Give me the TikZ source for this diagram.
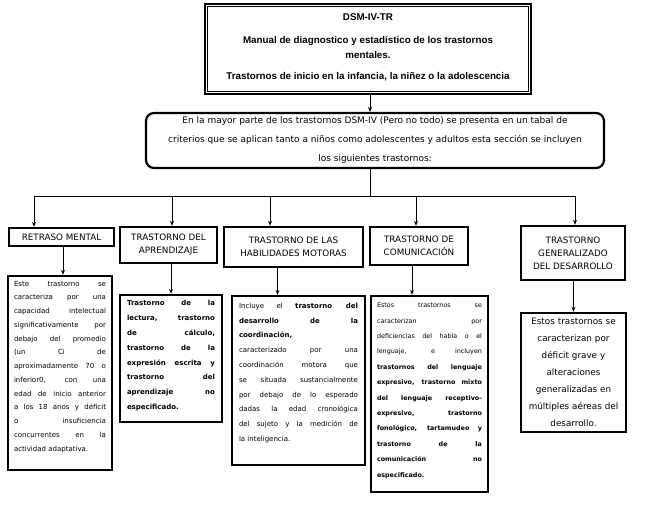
\documentclass[tikz,border=0pt]{standalone}
\usepackage{fontspec}
\setmainfont{DejaVu Sans}
\newfontfamily\arialfont{Liberation Sans}
\usetikzlibrary{arrows.meta}
\newcommand\nohyph{\tolerance=10000\relax\hyphenpenalty=10000\relax}
\begin{document}
\begin{tikzpicture}[x=1pt,y=-1pt,
  box/.style={draw, line width=2.4pt, rectangle, inner sep=0pt},
  hdr/.style={box, align=center, font=\fontsize{8.8}{13}\selectfont},
  dtext/.style={anchor=north, inner sep=0pt, align=justify},
  arr/.style={-{Stealth[length=5pt,width=4pt]}, line width=0.9pt},
  ln/.style={line width=0.9pt}]
\useasboundingbox (0,0) rectangle (649,510);

% top double box
\node[box, line width=2.2pt, minimum width=326pt, minimum height=90pt] (tb) at (368,49) {};
\draw[line width=1pt] ([shift={(3.5pt,-3.5pt)}]tb.north west) rectangle ([shift={(-3.5pt,3.5pt)}]tb.south east);
\node[align=center, inner sep=0pt, font=\arialfont\bfseries\fontsize{9.8}{15}\selectfont] (tt) at (368,47)
 {DSM-IV-TR\\[8pt]Manual de diagnostico y estadístico de los trastornos\\mentales.\\[6pt]Trastornos de inicio en la infancia, la niñez o la adolescencia};

% rounded box
\node[draw, line width=2.2pt, rounded corners=8pt, minimum width=458pt, minimum height=55pt,
  align=center, font=\fontsize{9}{19}\selectfont] (rb) at (375,140.5)
 {En la mayor parte de los trastornos DSM-IV (Pero no todo) se presenta en un tabal de\\criterios que se aplican tanto a niños como adolescentes y adultos esta sección se incluyen\\los siguientes trastornos:};

\draw[arr] (tb.south -| rb.north) ++(-5pt,0) coordinate (ta) -- (ta |- rb.north);

% headers
\node[hdr, minimum width=105pt, minimum height=18pt] (h1) at (61.5,237) {RETRASO MENTAL};
\node[hdr, minimum width=97pt, minimum height=36pt] (h2) at (168.5,245) {TRASTORNO DEL\\APRENDIZAJE};
\node[hdr, minimum width=139pt, minimum height=40pt] (h3) at (293.5,247) {TRASTORNO DE LAS\\HABILIDADES MOTORAS};
\node[hdr, minimum width=98pt, minimum height=38pt] (h4) at (419,246) {TRASTORNO DE\\COMUNICACIÓN};
\node[hdr, minimum width=104pt, minimum height=54pt] (h5) at (573,253) {TRASTORNO\\GENERALIZADO\\DEL DESARROLLO};

% bus
\coordinate (b0) at (370,196);
\coordinate (b1) at (34,196);
\coordinate (b2) at (172,196);
\coordinate (b3) at (270,196);
\coordinate (b4) at (416,196);
\coordinate (b5) at (575,196);
\draw[ln] (rb.south -| b0) -- (b0);
\draw[ln] (b1) -- (b5);
\draw[arr] (b1) -- (b1 |- h1.north);
\draw[arr] (b2) -- (b2 |- h2.north);
\draw[arr] (b3) -- (b3 |- h3.north);
\draw[arr] (b4) -- (b4 |- h4.north);
\draw[arr] (b5) -- (b5 |- h5.north);

% description boxes
\node[box, minimum width=104pt, minimum height=194pt] (d1) at (60,373) {};
\node[box, minimum width=102pt, minimum height=127pt] (d2) at (171,358.5) {};
\node[box, minimum width=133pt, minimum height=169pt] (d3) at (298.5,380.5) {};
\node[box, minimum width=117pt, minimum height=196pt] (d4) at (429.5,394) {};
\node[box, minimum width=105pt, minimum height=119pt, align=center, text width=97pt,
  font=\fontsize{8.8}{17}\selectfont] (d5) at (573.5,372.5)
 {Estos trastornos se\\caracterizan por\\déficit grave y\\alteraciones\\generalizadas en\\múltiples aéreas del\\desarrollo.};

\node[dtext, text width=92pt, font=\fontsize{7}{13.75}\selectfont\nohyph]
 (d1t) at ([yshift=-6pt]d1.north)
 {Este trastorno se\linebreak caracteriza por una\linebreak capacidad intelectual\linebreak significativamente por\linebreak debajo del promedio\linebreak (un Ci de\linebreak aproximadamente 70 o\linebreak inferior0, con una\linebreak edad de inicio anterior\linebreak a los 18 anos y déficit\linebreak o insuficiencia\linebreak concurrentes en la\linebreak actividad adaptativa.};

\node[dtext, text width=88pt, font=\bfseries\fontsize{7}{14.8}\selectfont\nohyph]
 (d2t) at ([yshift=-6.5pt]d2.north)
 {Trastorno de la\linebreak lectura, trastorno\linebreak de cálculo,\linebreak trastorno de la\linebreak expresión escrita y\linebreak trastorno del\linebreak aprendizaje no\linebreak especificado.};

\node[dtext, text width=119pt, font=\fontsize{7}{14.8}\selectfont\nohyph]
 (d3t) at ([yshift=-8pt]d3.north)
 {Incluye el \textbf{trastorno del}\linebreak \textbf{desarrollo de la}\linebreak \textbf{coordinación,}\newline caracterizado por una\linebreak coordinación motora que\linebreak se situada sustancialmente\linebreak por debajo de lo esperado\linebreak dadas la edad cronológica\linebreak del sujeto y la medición de\linebreak la inteligencia.};

\node[dtext, text width=105pt, font=\fontsize{6.4}{15.4}\selectfont\nohyph]
 (d4t) at ([yshift=-8pt]d4.north)
 {Estos trastornos se\linebreak caracterizan por\linebreak deficiencias del habla o el\linebreak lenguaje, e incluyen\linebreak \textbf{trastornos del lenguaje\linebreak expresivo, trastorno mixto\linebreak del lenguaje receptivo-\linebreak expresivo, trastorno\linebreak fonológico, tartamudeo y\linebreak trastorno de la\linebreak comunicación no\linebreak especificado.}};

% header to description arrows
\draw[arr] ([xshift=1.5pt]h1.south) coordinate (a1) -- (a1 |- d1.north);
\draw[arr] (h2.south -| d2.north) -- (d2.north);
\draw[arr] ([xshift=-16pt]h3.south) coordinate (a3) -- (a3 |- d3.north);
\draw[arr] ([xshift=-7pt]h4.south) coordinate (a4) -- (a4 |- d4.north);
\draw[arr] (h5.south -| d5.north) -- (d5.north);
\end{tikzpicture}
\end{document}
